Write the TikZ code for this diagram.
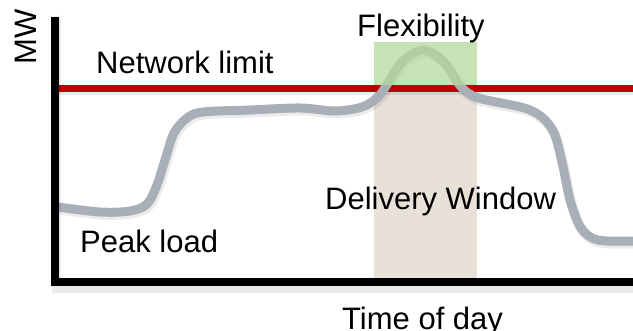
\documentclass[tikz,border=0pt]{standalone}
\usepackage{fontspec}
\setmainfont{Liberation Sans}
\begin{document}
\begin{tikzpicture}[x=1pt,y=-1pt,
  lbl/.style={inner sep=0pt, font=\fontsize{31}{37}\selectfont, text=black},
  shade/.style={draw=black, opacity=0.08, line cap=round},
  axis/.style={draw=black, line width=8pt},
  load/.style={draw=loadgray, line width=9pt, line cap=round},
]
\definecolor{loadgray}{HTML}{A9AFB7}
\definecolor{flexgreen}{HTML}{B5D89C}
\definecolor{windowtan}{HTML}{E8E1D8}
\definecolor{limitred}{HTML}{C00000}
\useasboundingbox (0,0) rectangle (633,331);

% delivery window band
\fill[windowtan] (374,92) rectangle (477,278);

% network limit with soft shadow
\draw[shade, line width=8pt] (60,91) -- (633,91);
\draw[draw=limitred, line width=7pt] (58,88.5) -- (633,88.5);

% load profile
\def\loadpath{(58,207) (100,212) (130,211) (147,204) (157,185) (165,160)
  (174,133) (187,118) (203,112) (250,110) (300,108) (335,111) (362,107)
  (378,97) (388,83) (402,62) (423,50) (444,62) (458,83) (468,93) (482,99)
  (530,110) (552,129) (562,162) (570,200) (581,228) (598,240) (633,241)}
\draw[shade, line width=10pt, shift={(1.5,2.5)}] plot[smooth, tension=0.55] coordinates {\loadpath};
\draw[load] plot[smooth, tension=0.55] coordinates {\loadpath};

% flexibility band over the peak
\fill[flexgreen, opacity=0.75] (374,42) rectangle (477,85);

% axes
\draw[shade, line width=9pt] (56,20) -- (56,289) -- (633,289);
\draw[axis] (54.5,17) -- (54.5,282) -- (633,282);

% labels
\node[lbl, anchor=base west, rotate=90] (mw) at (37,65) {MW};
\node[lbl, anchor=base west] (limit) at (96,74) {Network limit};
\node[lbl, anchor=base west] (flex) at (357,37) {Flexibility};
\node[lbl, anchor=base west] (window) at (325,210) {Delivery Window};
\node[lbl, anchor=base west] (peak) at (80,253) {Peak load};
\node[lbl, anchor=base west] (time) at (342,330) {Time of day};
\end{tikzpicture}
\end{document}
